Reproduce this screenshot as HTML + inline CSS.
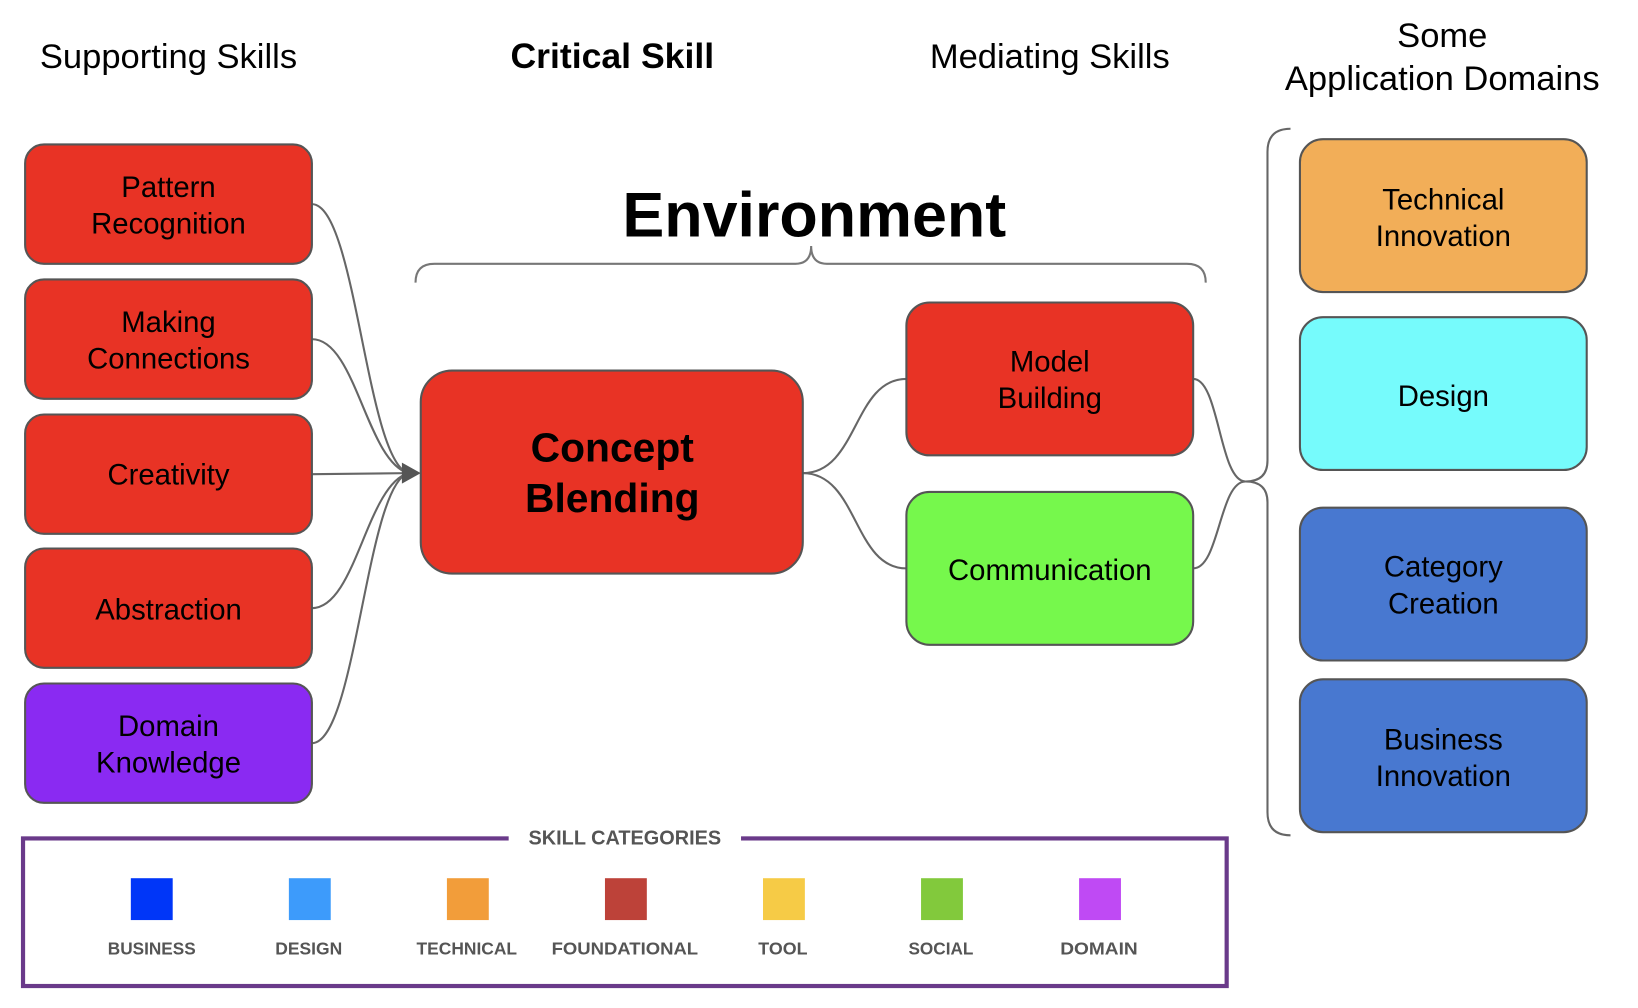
<!DOCTYPE html>
<html><head><meta charset="utf-8"><style>
html,body{margin:0;padding:0;background:#fff;}
svg{display:block;}
text{font-family:"Liberation Sans",Arial,sans-serif;}
</style></head><body>
<svg width="1638" height="1008" viewBox="0 0 1565 963" preserveAspectRatio="none" xmlns="http://www.w3.org/2000/svg">
<g font-size="33" text-anchor="middle" fill="#000">
<text x="161" y="65">Supporting Skills</text>
<text x="585" y="65" font-weight="bold" font-size="34">Critical Skill</text>
<text x="1003" y="65">Mediating Skills</text>
<text x="1378" y="45">Some</text>
<text x="1378" y="86">Application Domains</text>
</g>
<text x="778" y="226" font-size="60" font-weight="bold" text-anchor="middle">Environment</text>
<path d="M397,270 Q397,252 415,252 L760,252 Q775,252 775,235 Q775,252 790,252 L1134,252 Q1152,252 1152,270" fill="none" stroke="#777" stroke-width="2"/>

<g fill="none" stroke="#666" stroke-width="2">
<path d="M298,195 C340,195 350,440 390,452"/>
<path d="M298,324 C340,324 350,440 390,452"/>
<path d="M298,453 L390,452"/>
<path d="M298,581 C340,581 350,464 390,452"/>
<path d="M298,710 C340,710 350,464 390,452"/>
<path d="M767,452 C820,452 815,362 866,362"/>
<path d="M767,452 C820,452 815,543 866,543"/>
<path d="M1140,362 C1165,362 1165,460 1190,460"/>
<path d="M1140,543 C1165,543 1165,460 1190,460"/>
<path d="M1233,123 Q1211,123 1211,145 L1211,440 Q1211,460 1190,460 Q1211,460 1211,480 L1211,776 Q1211,798 1233,798"/>
</g>
<polygon points="402,452 384,442 384,462" fill="#555"/>

<g stroke="#555" stroke-width="2">
<rect x="24" y="138" width="274" height="114" rx="18" fill="#e83325"/>
<rect x="24" y="267" width="274" height="114" rx="18" fill="#e83325"/>
<rect x="24" y="396" width="274" height="114" rx="18" fill="#e83325"/>
<rect x="24" y="524" width="274" height="114" rx="18" fill="#e83325"/>
<rect x="24" y="653" width="274" height="114" rx="18" fill="#8a2af2"/>
<rect x="402" y="354" width="365" height="194" rx="30" fill="#e83325"/>
<rect x="866" y="289" width="274" height="146" rx="22" fill="#e83325"/>
<rect x="866" y="470" width="274" height="146" rx="22" fill="#76f84c"/>
<rect x="1242" y="133" width="274" height="146" rx="22" fill="#f2ae58"/>
<rect x="1242" y="303" width="274" height="146" rx="22" fill="#76fbfc"/>
<rect x="1242" y="485" width="274" height="146" rx="22" fill="#4878d0"/>
<rect x="1242" y="649" width="274" height="146" rx="22" fill="#4878d0"/>
</g>
<g font-size="28" text-anchor="middle" fill="#000">
<text x="161" y="188">Pattern</text><text x="161" y="223">Recognition</text>
<text x="161" y="317">Making</text><text x="161" y="352">Connections</text>
<text x="161" y="463">Creativity</text>
<text x="161" y="592">Abstraction</text>
<text x="161" y="703">Domain</text><text x="161" y="738">Knowledge</text>
<text x="1003" y="355">Model</text><text x="1003" y="390">Building</text>
<text x="1003" y="554">Communication</text>
<text x="1379" y="200">Technical</text><text x="1379" y="235">Innovation</text>
<text x="1379" y="388">Design</text>
<text x="1379" y="551">Category</text><text x="1379" y="586">Creation</text>
<text x="1379" y="716">Business</text><text x="1379" y="751">Innovation</text>
</g>
<g font-size="39" font-weight="bold" text-anchor="middle">
<text x="585" y="441">Concept</text><text x="585" y="489">Blending</text>
</g>

<rect x="22" y="801" width="1150" height="141" fill="none" stroke="#6a3a8a" stroke-width="4"/>
<rect x="486" y="790" width="222" height="20" fill="#fff"/>
<text x="597" y="807" font-size="19" font-weight="bold" fill="#555" text-anchor="middle" textLength="184" lengthAdjust="spacingAndGlyphs">SKILL CATEGORIES</text>
<rect x="125" y="839" width="40" height="40" fill="#0036f8"/>
<rect x="276" y="839" width="40" height="40" fill="#3d9bfb"/>
<rect x="427" y="839" width="40" height="40" fill="#f29d3a"/>
<rect x="578" y="839" width="40" height="40" fill="#bd4239"/>
<rect x="729" y="839" width="40" height="40" fill="#f6cb46"/>
<rect x="880" y="839" width="40" height="40" fill="#82c93c"/>
<rect x="1031" y="839" width="40" height="40" fill="#bf4af4"/>
<g font-size="17" font-weight="bold" fill="#555" text-anchor="middle">
<text x="145" y="912" textLength="84" lengthAdjust="spacingAndGlyphs">BUSINESS</text>
<text x="295" y="912" textLength="64" lengthAdjust="spacingAndGlyphs">DESIGN</text>
<text x="446" y="912" textLength="96" lengthAdjust="spacingAndGlyphs">TECHNICAL</text>
<text x="597" y="912" textLength="140" lengthAdjust="spacingAndGlyphs">FOUNDATIONAL</text>
<text x="748" y="912" textLength="47" lengthAdjust="spacingAndGlyphs">TOOL</text>
<text x="899" y="912" textLength="62" lengthAdjust="spacingAndGlyphs">SOCIAL</text>
<text x="1050" y="912" textLength="74" lengthAdjust="spacingAndGlyphs">DOMAIN</text>
</g>
</svg>
</body></html>
